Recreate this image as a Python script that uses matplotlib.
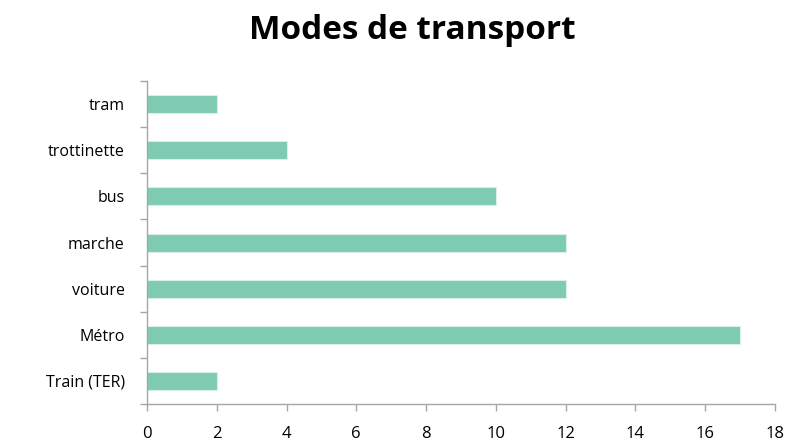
import matplotlib
matplotlib.use("Agg")
import matplotlib.pyplot as plt
import numpy as np

categories = ["Train (TER)", "Métro", "voiture", "marche", "bus", "trottinette", "tram"]
values = [2, 17, 12, 12, 10, 4, 2]
xticks = [0, 2, 4, 6, 8, 10, 12, 14, 16, 18]

plt.rcParams['font.family'] = ['Open Sans', 'DejaVu Sans']

fig = plt.figure(figsize=(7.88, 4.43), dpi=100)
ax = fig.add_axes([0.1865, 0.088, 0.7970, 0.729])

y = np.arange(len(categories))
ax.barh(y, values, height=0.39, color="#7ECAB2", edgecolor="#D8F0E8", linewidth=0.8, zorder=2)

ax.set_xlim(0, 18)
ax.set_ylim(-0.5, len(categories) - 0.5)
ax.set_xticks(xticks)
ax.set_xticklabels([str(v) for v in xticks], fontsize=12)
ax.set_yticks(y)
ax.set_yticklabels(categories, fontsize=11.5)
ax.set_yticks(np.arange(-0.5, len(categories), 1), minor=True)
ax.tick_params(axis='y', which='major', length=0, pad=16)
ax.tick_params(axis='y', which='minor', length=5, color="#A6A6A6", width=1)
ax.tick_params(axis='x', which='major', length=5, color="#A6A6A6", width=1, pad=11)

for s in ['top', 'right']:
    ax.spines[s].set_visible(False)
for s in ['left', 'bottom']:
    ax.spines[s].set_color("#A6A6A6")
    ax.spines[s].set_linewidth(1)

fig.text(0.523, 0.932, "Modes de transport", ha='center', va='center', fontsize=24, fontweight='bold')

fig.savefig("out.png", dpi=100)
